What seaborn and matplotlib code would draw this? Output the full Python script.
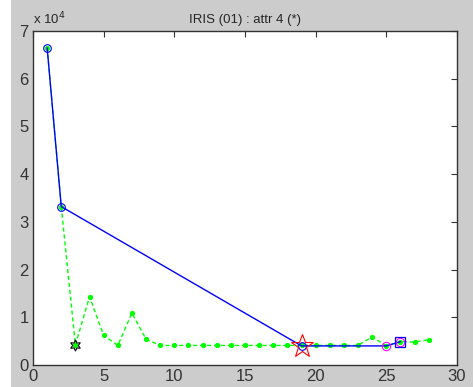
import matplotlib
matplotlib.use("Agg")
import matplotlib.pyplot as plt
import seaborn as sns
import pandas as pd
import numpy as np
from matplotlib.patches import Rectangle

# data (values in units of 1e4)
green_x = list(range(1, 29))
green_y = [6.65, 3.32, 0.42, 1.43, 0.62, 0.41, 1.09, 0.54, 0.41, 0.41,
           0.41, 0.41, 0.41, 0.41, 0.41, 0.41, 0.41, 0.41, 0.41, 0.41,
           0.41, 0.41, 0.41, 0.59, 0.40, 0.49, 0.48, 0.53]
blue_x = [1, 2, 19, 25, 26]
blue_y = [6.65, 3.32, 0.40, 0.40, 0.49]
circle_x = [1, 2, 19]
circle_y = [6.65, 3.32, 0.40]
star_x, star_y = [19], [0.40]
hex_x, hex_y = [3], [0.42]
mag_x, mag_y = [25, 26], [0.40, 0.49]
sq_x, sq_y = [26], [0.49]
x_ticks = [0, 5, 10, 15, 20, 25, 30]
y_ticks = [0, 1, 2, 3, 4, 5, 6, 7]
title = "IRIS (01) : attr 4 (*)"

sns.set_style("white")
plt.rcParams['font.family'] = ['Liberation Sans', 'DejaVu Sans']

fig = plt.figure(figsize=(4.73, 3.87), dpi=100, facecolor="#cccccc")
fig.patches.append(Rectangle((0, 0), 11 / 473, 1, transform=fig.transFigure,
                             facecolor="white", edgecolor="none", zorder=0))
ax = fig.add_axes([33 / 473, 22 / 387, (457 - 33) / 473, (365 - 31) / 387])
ax.set_facecolor("white")

gdf = pd.DataFrame({"x": green_x, "y": green_y})
bdf = pd.DataFrame({"x": blue_x, "y": blue_y})

sns.lineplot(data=gdf, x="x", y="y", ax=ax, color="#00ff00", lw=1,
             linestyle=(0, (3, 2)), marker="o", markersize=3,
             markeredgecolor="#00ff00", zorder=2)
sns.lineplot(data=bdf, x="x", y="y", ax=ax, color="#0000ff", lw=1, zorder=3)
ax.plot(circle_x, circle_y, "o", mfc="none", mec="#0000ff", ms=5.5, mew=0.8, zorder=4)
ax.plot(star_x, star_y, "*", mfc="none", mec="#ff0000", ms=17, mew=0.8, zorder=5)
ax.plot(hex_x, hex_y, marker=(6, 1, 0), ls="none", mfc="none", mec="black",
        ms=8, mew=0.8, zorder=5)
ax.plot(mag_x, mag_y, "o", mfc="none", mec="#ff00ff", ms=6, mew=0.8, zorder=4)
ax.plot(sq_x, sq_y, "s", mfc="none", mec="#0000ff", ms=7, mew=0.9, zorder=4)

ax.set_xlim(0, 30)
ax.set_ylim(0, 7)
ax.set_xticks(x_ticks)
ax.set_yticks(y_ticks)
ax.set_xticklabels([str(t) for t in x_ticks])
ax.set_yticklabels([str(t) for t in y_ticks])
ax.set_xlabel("")
ax.set_ylabel("")
ax.tick_params(direction="in", length=4, width=0.8, top=True, right=True,
               labelsize=12, colors="#333333", pad=3)
for s in ax.spines.values():
    s.set_visible(True)
    s.set_color("#333333")
    s.set_linewidth(1.0)
ax.set_title(title, fontsize=9.5, pad=6)
ax.text(0.0, 1.012, r"x 10$^{4}$", transform=ax.transAxes, fontsize=9.5,
        ha="left", va="bottom")

fig.savefig("out.png", dpi=100, facecolor=fig.get_facecolor())
